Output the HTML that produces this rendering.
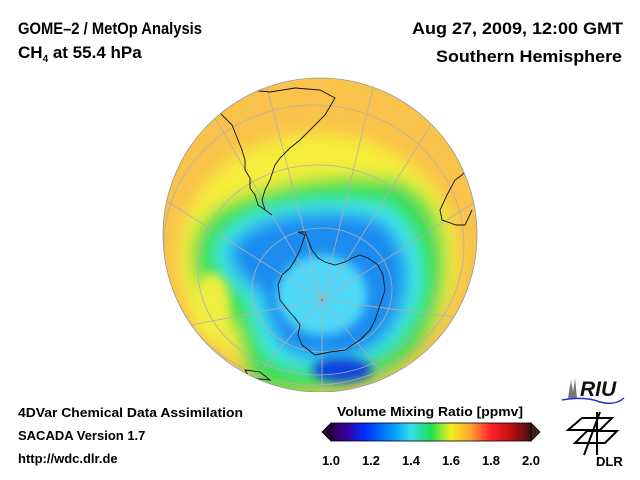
<!DOCTYPE html>
<html><head><meta charset="utf-8"><style>
html,body{margin:0;padding:0;background:#fff;}
svg{display:block;font-family:"Liberation Sans",sans-serif;font-weight:bold;}
</style></head><body>
<svg id="chart" width="640" height="480" viewBox="0 0 640 480" xmlns="http://www.w3.org/2000/svg">
<defs>
  <clipPath id="globeClip"><circle cx="320" cy="235" r="157"/></clipPath>
  <filter id="blur" x="-30%" y="-30%" width="160%" height="160%"><feGaussianBlur stdDeviation="8"/></filter>
  <filter id="blur2" x="-30%" y="-30%" width="160%" height="160%"><feGaussianBlur stdDeviation="5"/></filter>
  <linearGradient id="cbar" x1="0" x2="1" y1="0" y2="0">
    <stop offset="0" stop-color="#2a0050"/>
    <stop offset="0.08" stop-color="#3a00a0"/>
    <stop offset="0.17" stop-color="#0030ff"/>
    <stop offset="0.3" stop-color="#0090ff"/>
    <stop offset="0.4" stop-color="#30e0f0"/>
    <stop offset="0.5" stop-color="#20e050"/>
    <stop offset="0.6" stop-color="#f0f020"/>
    <stop offset="0.7" stop-color="#ffa030"/>
    <stop offset="0.8" stop-color="#ff2030"/>
    <stop offset="0.9" stop-color="#c01010"/>
    <stop offset="1" stop-color="#401010"/>
  </linearGradient>
</defs>

<g>
  <text x="18" y="34" font-size="17" textLength="184" lengthAdjust="spacingAndGlyphs">GOME–2 / MetOp Analysis</text>
  <text x="18" y="58" font-size="17">CH<tspan font-size="10" dy="4">4</tspan><tspan dy="-4"> at 55.4 hPa</tspan></text>
  <text x="623" y="34" font-size="17" text-anchor="end" textLength="211" lengthAdjust="spacingAndGlyphs">Aug 27, 2009, 12:00 GMT</text>
  <text x="622" y="62" font-size="17" text-anchor="end" textLength="186" lengthAdjust="spacingAndGlyphs">Southern Hemisphere</text>
</g>

<g clip-path="url(#globeClip)">
  <circle cx="320" cy="235" r="157" fill="#f9c24a"/>
  <g filter="url(#blur)">
    <ellipse cx="318" cy="258" rx="140" ry="125" fill="#f5ee3a"/>
    <path d="M192,245 Q200,205 265,190 Q330,170 400,180 Q450,205 445,275 Q440,345 380,375 Q300,400 258,385 Q240,360 238,330 Q215,310 200,290 Q190,270 192,245Z" fill="#3ce050"/>
    <path d="M215,250 Q232,212 292,204 Q345,196 388,206 Q428,238 420,292 Q407,348 355,366 Q300,376 268,356 Q252,322 248,296 Q220,284 215,250Z" fill="#40e8f0"/>
    <path d="M228,250 Q246,220 300,214 Q346,208 382,220 Q412,248 406,292 Q396,342 352,357 Q305,364 280,346 Q266,318 260,292 Q234,280 228,250Z" fill="#1a8cf0"/>
  </g>
  <g filter="url(#blur2)">
    <ellipse cx="322" cy="295" rx="45" ry="40" fill="#50d8f8"/>
    <ellipse cx="342" cy="370" rx="30" ry="12" fill="#1040e0"/>
    <ellipse cx="212" cy="305" rx="18" ry="32" fill="#f0ee40"/>
  </g>
  <g fill="none" stroke="#b0b0b0" stroke-width="0.8">
    <ellipse cx="322" cy="290" rx="70" ry="62"/>
    <ellipse cx="318" cy="270" rx="120" ry="105"/>
    <ellipse cx="314" cy="245" rx="150" ry="140"/>
    <path d="M322,300 L265,80 M322,300 L375,80 M322,300 L210,110 M322,300 L440,110 M322,300 L165,200 M322,300 L478,200 M322,300 L165,330 M322,300 L478,320 M322,300 L240,395 M322,300 L400,395 M322,300 L322,395"/>
  </g>
  <g fill="none" stroke="#111" stroke-width="0.9">
    <path d="M220,95 L250,90 L270,92 L295,88 L320,90 L335,98 L325,115 L312,128 L300,140 L290,148 L280,158 L275,165 L270,180 L265,190 L262,200 L265,210 L272,215 L265,210 L258,205 L255,195 L250,188 L250,178 L245,170 L245,160 L242,150 L238,140 L232,125 L222,115 L215,105 L220,95"/>
    <path d="M298,232 L305,235 L300,250 L295,260 L290,268 L282,275 L278,285 L280,300 L288,310 L295,318 L300,325 L298,335 L302,345 L315,355 L330,352 L345,350 L360,340 L370,330 L375,320 L380,305 L385,290 L383,275 L378,265 L368,258 L360,255 L352,258 L345,262 L335,265 L325,262 L318,258 L312,250 L308,240 L305,232 Z"/>
    <path d="M440,110 L452,125 L462,140 L470,150 L470,165 L462,175 L455,180 L447,195 L440,210 L442,220 L456,225 L465,225 L472,210"/>
    <path d="M245,370 L260,372 L270,380 L250,378 Z"/>
  </g>
  <circle cx="322" cy="300" r="1.2" fill="#888"/>
</g>
<circle cx="320" cy="235" r="157" fill="none" stroke="#999" stroke-width="0.8"/>

<rect x="300" y="392" width="260" height="20" fill="#fff"/>

<g font-size="13">
  <text x="18" y="417" textLength="225" lengthAdjust="spacingAndGlyphs">4DVar Chemical Data Assimilation</text>
  <text x="18" y="440">SACADA Version 1.7</text>
  <text x="18" y="463">http://wdc.dlr.de</text>
</g>

<g id="colorbar">
  <text x="430" y="416" font-size="13" text-anchor="middle" textLength="186" lengthAdjust="spacingAndGlyphs">Volume Mixing Ratio [ppmv]</text>
  <polygon points="322,432 331,423 331,441" fill="#2a0040" stroke="#000" stroke-width="0.8"/>
  <polygon points="540,432 531,423 531,441" fill="#402020" stroke="#000" stroke-width="0.8"/>
  <rect x="331" y="423" width="200" height="18" fill="url(#cbar)" stroke="#000" stroke-width="0.8"/>
</g>

<g>
  <path d="M568,398 L571,380 L573,392 L575,378 L577,398 Z" fill="#777"/>
  <text x="580" y="396" font-size="21" font-style="italic" fill="#111">RIU</text>
  <path d="M562,400 Q585,396 600,402 Q615,406 624,398" fill="none" stroke="#2030d0" stroke-width="1.5"/>
</g>
<g fill="none" stroke="#000" stroke-width="2">
  <path d="M568,430 L600,430 L612,418 L582,418 Z M575,443 L605,443 L617,431 L587,431 Z M597,412 L597,455 M600,412 L584,455"/>
  <text x="596" y="466" font-size="13" fill="#000" stroke="none">DLR</text>
</g>

<script>
var tickValues = [1.0, 1.2, 1.4, 1.6, 1.8, 2.0];
var tickLabels = ["1.0", "1.2", "1.4", "1.6", "1.8", "2.0"];
var cmin = 1.0, cmax = 2.0;
function xScale(v){ return 331 + (v - cmin) / (cmax - cmin) * 200; }
var NS = "http://www.w3.org/2000/svg";
var cb = document.getElementById('colorbar');
for (var i = 0; i < tickValues.length; i++) {
  var t = document.createElementNS(NS, 'text');
  t.setAttribute('x', xScale(tickValues[i]));
  t.setAttribute('y', 465);
  t.setAttribute('font-size', '13');
  t.setAttribute('text-anchor', 'middle');
  t.textContent = tickLabels[i];
  
  
  cb.appendChild(t);
}
</script>
</svg>
</body></html>
